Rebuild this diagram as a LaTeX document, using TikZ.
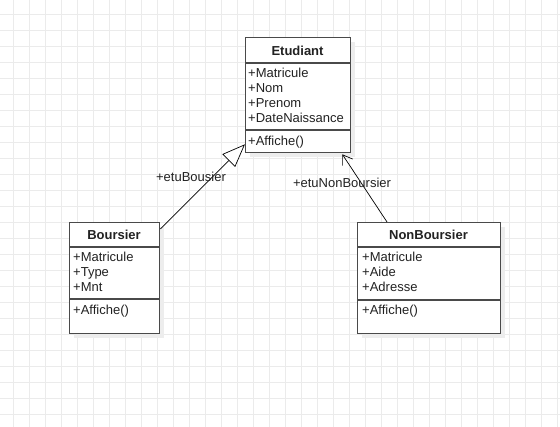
\documentclass[tikz,border=0pt]{standalone}
\usepackage{fontspec}
\setmainfont{Liberation Sans}
\usetikzlibrary{arrows.meta}
\definecolor{gridc}{HTML}{EBEBEB}
\definecolor{boxc}{HTML}{4A4A4A}
\definecolor{txtc}{HTML}{222222}
\definecolor{shadc}{HTML}{EDEDED}
\begin{document}
\begin{tikzpicture}[x=1pt,y=-1pt,
  gridline/.style={draw=gridc,line width=0.9pt},
  classbox/.style={draw=boxc,line width=1.3pt,fill=white,inner sep=0pt,anchor=north west},
  shadowbox/.style={fill=shadc,draw=none,inner sep=0pt,anchor=north west},
  sepline/.style={draw=boxc,line width=1.3pt},
  txt/.style={text=txtc,font=\fontsize{13}{15}\selectfont,inner sep=0pt},
  attr/.style={txt,anchor=base west},
  head/.style={txt,anchor=base,font=\fontsize{13}{15}\selectfont\bfseries},
  conn/.style={draw=black,line width=0.7pt},
  inh/.style={conn,-{Triangle[open,length=23pt,width=18pt,fill=white]}},
  assoc/.style={conn,-{Straight Barb[length=9pt,width=12pt]}}
]
\useasboundingbox (0,0) rectangle (560,427);
\fill[white] (0,0) rectangle (560,427);
\foreach \x in {13,29,...,557} \draw[gridline] (\x,0) -- (\x,427);
\foreach \y in {14,30,...,414} \draw[gridline] (0,\y) -- (560,\y);

% shadows
\node[shadowbox,minimum width=105pt,minimum height=115pt] (etush) at (250,42) {};
\node[shadowbox,minimum width=90pt,minimum height=111pt] (boush) at (74,227) {};
\node[shadowbox,minimum width=143pt,minimum height=111pt] (nonsh) at (362,227) {};

% Etudiant
\node[classbox,minimum width=105pt,minimum height=115pt] (etu) at (245,37) {};
\draw[sepline] (etu.west |- 0,63) -- (etu.east |- 0,63);
\draw[sepline] (etu.west |- 0,130) -- (etu.east |- 0,130);
\node[head] (etuH) at (297.5,56) {Etudiant};
\node[attr] (etuA1) at (248,77.5) {+Matricule};
\node[attr] (etuA2) at (248,92.5) {+Nom};
\node[attr] (etuA3) at (248,107.5) {+Prenom};
\node[attr] (etuA4) at (248,122.5) {+DateNaissance};
\node[attr] (etuM1) at (248,145.5) {+Affiche()};

% Boursier
\node[classbox,minimum width=90pt,minimum height=111pt] (bour) at (69,222) {};
\draw[sepline] (bour.west |- 0,247) -- (bour.east |- 0,247);
\draw[sepline] (bour.west |- 0,299) -- (bour.east |- 0,299);
\node[head] (bourH) at (114,240) {Boursier};
\node[attr] (bourA1) at (73,261.7) {+Matricule};
\node[attr] (bourA2) at (73,276.7) {+Type};
\node[attr] (bourA3) at (73,291.7) {+Mnt};
\node[attr] (bourM1) at (73,315) {+Affiche()};

% NonBoursier
\node[classbox,minimum width=143pt,minimum height=111pt] (nonb) at (357,222) {};
\draw[sepline] (nonb.west |- 0,247) -- (nonb.east |- 0,247);
\draw[sepline] (nonb.west |- 0,300) -- (nonb.east |- 0,300);
\node[head] (nonbH) at (428.5,240) {NonBoursier};
\node[attr] (nonbA1) at (362,261.7) {+Matricule};
\node[attr] (nonbA2) at (362,276.7) {+Aide};
\node[attr] (nonbA3) at (362,291.7) {+Adresse};
\node[attr] (nonbM1) at (362,315) {+Affiche()};

% connectors
\draw[inh] ([yshift=-7pt]bour.north east) -- ([yshift=9pt]etu.south west);
\draw[assoc] ([xshift=30pt]nonb.north west) -- ([xshift=-9pt,yshift=-1pt]etu.south east);

% labels
\node[txt] (lab1) at (191,177) {+etuBousier};
\node[txt] (lab2) at (342,183) {+etuNonBoursier};
\end{tikzpicture}
\end{document}
